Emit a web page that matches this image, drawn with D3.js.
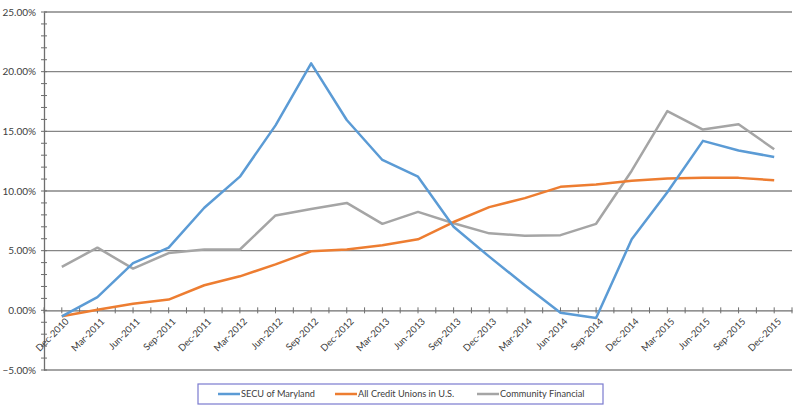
<!DOCTYPE html>
<html>
<head>
<meta charset="utf-8">
<script src="https://cdn.jsdelivr.net/npm/d3@7"></script>
<style>
  html, body { margin: 0; padding: 0; background: #fff; }
  svg { display: block; font-family: Lato, "Open Sans", sans-serif; }
</style>
</head>
<body>
<svg id="chart" width="800" height="410"></svg>
<script>
const categories = ["Dec-2010","Mar-2011","Jun-2011","Sep-2011","Dec-2011","Mar-2012","Jun-2012","Sep-2012","Dec-2012","Mar-2013","Jun-2013","Sep-2013","Dec-2013","Mar-2014","Jun-2014","Sep-2014","Dec-2014","Mar-2015","Jun-2015","Sep-2015","Dec-2015"];
const secu = [-0.5, 1.1, 3.95, 5.25, 8.6, 11.2, 15.5, 20.7, 15.95, 12.6, 11.2, 7.0, 4.5, 2.1, -0.2, -0.65, 5.95, 9.9, 14.2, 13.4, 12.85];
const allCU = [-0.5, 0.05, 0.55, 0.9, 2.1, 2.85, 3.85, 4.95, 5.1, 5.45, 5.95, 7.4, 8.65, 9.4, 10.35, 10.55, 10.85, 11.05, 11.1, 11.1, 10.9];
const community = [3.65, 5.25, 3.5, 4.8, 5.1, 5.1, 7.95, 8.5, 9.0, 7.25, 8.25, 7.3, 6.45, 6.25, 6.3, 7.25, 11.7, 16.7, 15.15, 15.6, 13.5];
const seriesNames = ["SECU of Maryland", "All Credit Unions in U.S.", "Community Financial"];
const seriesColors = ["#5b9bd5", "#ed7d31", "#a5a5a5"];
const yTicks = [-5, 0, 5, 10, 15, 20, 25];

(function () {
const series = [secu, allCU, community].map((vals, i) => ({name: seriesNames[i], color: seriesColors[i], values: vals}));

const svg = d3.select("#chart");
const mLeft = 44, mRight = 792, mTop = 12, mBottom = 370;

const x = d3.scaleBand().domain(categories).range([mLeft, mRight]).padding(0);
const y = d3.scaleLinear().domain([-5, 25]).range([mBottom, mTop]);
const cx = c => x(c) + x.bandwidth() / 2;

// gridlines
svg.append("g").selectAll("line").data(yTicks.filter(d => d !== 0)).join("line")
  .attr("x1", mLeft).attr("x2", mRight)
  .attr("y1", d => y(d)).attr("y2", d => y(d))
  .attr("stroke", "#868686").attr("stroke-width", 1.4);

// y axis
const yAxis = d3.axisLeft(y).tickValues(d3.range(-5, 26, 1)).tickSize(0).tickFormat("");
const yg = svg.append("g").attr("transform", `translate(${mLeft},0)`).call(yAxis);
yg.select(".domain").attr("stroke", "#6e6e6e").attr("stroke-width", 1.3);
svg.append("g").selectAll("line").data(d3.range(-5, 26, 1)).join("line")
  .attr("x1", mLeft - 3).attr("x2", mLeft + 3)
  .attr("y1", d => y(d)).attr("y2", d => y(d))
  .attr("stroke", "#6e6e6e").attr("stroke-width", 1);
svg.append("g").selectAll("text").data(yTicks).join("text")
  .attr("x", 36).attr("y", d => y(d)).attr("dy", "0.35em")
  .attr("text-anchor", "end").attr("font-size", 10).attr("fill", "#404040")
  .text(d => d3.format(".2f")(d) + "%");

// x axis at zero
const xAxis = d3.axisBottom(x).tickSize(0).tickFormat("");
const xg = svg.append("g").attr("transform", `translate(0,${y(0)})`).call(xAxis);
xg.select(".domain").attr("stroke", "#6e6e6e").attr("stroke-width", 1.3);
xg.selectAll(".tick").remove();
const tickXs = [];
categories.forEach(c => { tickXs.push(x(c)); tickXs.push(cx(c)); });
tickXs.push(mRight);
svg.append("g").selectAll("line").data(tickXs).join("line")
  .attr("x1", d => d).attr("x2", d => d)
  .attr("y1", y(0) - 3).attr("y2", y(0) + 3)
  .attr("stroke", "#6e6e6e").attr("stroke-width", 1);
svg.append("g").selectAll("text").data(categories).join("text")
  .attr("transform", c => `translate(${cx(c) + 3},${y(0) + 7}) rotate(-45)`)
  .attr("text-anchor", "end").attr("dy", "0.7em").attr("font-size", 9.5).attr("fill", "#404040")
  .text(c => c);

// lines
const line = d3.line().x((d, i) => cx(categories[i])).y(d => y(d));
svg.append("g").selectAll("path").data([series[2], series[1], series[0]]).join("path")
  .attr("d", s => line(s.values))
  .attr("fill", "none").attr("stroke", s => s.color).attr("stroke-width", 2.5)
  .attr("stroke-linejoin", "round");

// legend
const lg = svg.append("g");
lg.append("rect").attr("x", 198).attr("y", 384).attr("width", 405).attr("height", 20)
  .attr("fill", "#fff").attr("stroke", "#7b7bcf").attr("stroke-width", 1.2);
const legX = [218, 335, 477];
series.forEach((s, i) => {
  lg.append("line").attr("x1", legX[i]).attr("x2", legX[i] + 22).attr("y1", 394).attr("y2", 394)
    .attr("stroke", s.color).attr("stroke-width", 2.5);
  lg.append("text").attr("x", legX[i] + 23).attr("y", 394).attr("dy", "0.35em")
    .attr("font-size", 9.2).attr("fill", "#404040").text(s.name);
});
})();
</script>
</body>
</html>
